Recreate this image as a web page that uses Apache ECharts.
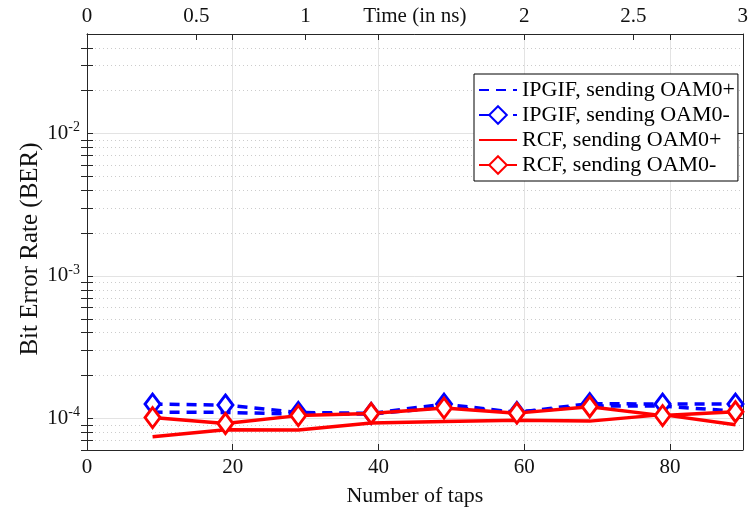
<!DOCTYPE html>
<html><head><meta charset="utf-8">
<script src="https://cdn.jsdelivr.net/npm/echarts@6/dist/echarts.min.js"></script>
<style>html,body{margin:0;padding:0;background:#fff}#c{width:751px;height:514px}</style>
</head><body><div id="c"></div>
<script>
const taps = [9, 19, 29, 39, 49, 59, 69, 79, 89];
const ipgifPlus  = [1.107e-4, 1.102e-4, 1.072e-4, 1.072e-4, 1.20e-4, 1.107e-4, 1.22e-4, 1.22e-4, 1.125e-4];
const ipgifMinus = [1.26e-4, 1.24e-4, 1.102e-4, 1.084e-4, 1.26e-4, 1.102e-4, 1.27e-4, 1.26e-4, 1.26e-4];
const rcfPlus    = [0.743e-4, 0.832e-4, 0.828e-4, 0.927e-4, 0.953e-4, 0.97e-4, 0.957e-4, 1.063e-4, 0.902e-4];
const rcfMinus   = [1.013e-4, 0.922e-4, 1.046e-4, 1.084e-4, 1.181e-4, 1.089e-4, 1.206e-4, 1.046e-4, 1.113e-4];
const seriesNames = ['IPGIF, sending OAM0+', 'IPGIF, sending OAM0-', 'RCF, sending OAM0+', 'RCF, sending OAM0-'];
const tapTicks = [0, 20, 40, 60, 80];
const timeTickLabels = [0, 0.5, 1, 1.5, 2, 2.5, 3];
const timeTitleAt = 1.5;
const yMajor = [1e-4, 1e-3, 1e-2];
const yMinor = [6e-5, 7e-5, 8e-5, 9e-5, 2e-4, 3e-4, 4e-4, 5e-4, 6e-4, 7e-4, 8e-4, 9e-4,
                2e-3, 3e-3, 4e-3, 5e-3, 6e-3, 7e-3, 8e-3, 9e-3, 2e-2, 3e-2, 4e-2];

const FONT = "'Liberation Serif', 'Times New Roman', serif";
const AX = '#262626';
const TXT = '#111';
const pair = (ys) => taps.map((x, i) => [x, ys[i]]);
const timeMirror = tapTicks.slice(1).map(t => t / 30);
const tick = (vals) => ({ show: true, inside: true, length: 6, lineStyle: { color: AX, width: 1 }, customValues: vals });

const chart = echarts.init(document.getElementById('c'));
chart.setOption({
  animation: false,
  backgroundColor: '#fff',
  grid: { left: 87, right: 6, top: 34, bottom: 64, containLabel: false },
  xAxis: [
    { type: 'value', position: 'bottom', min: 0, max: 90, interval: 10,
      name: 'Number of taps', nameLocation: 'middle', nameGap: 35,
      nameTextStyle: { fontFamily: FONT, fontSize: 22, color: TXT },
      axisLine: { show: true, lineStyle: { color: AX, width: 1 } },
      axisTick: tick(tapTicks),
      axisLabel: { margin: 7, fontFamily: FONT, fontSize: 21, color: TXT, customValues: tapTicks },
      splitLine: { show: true, lineStyle: { color: '#e3e3e3', width: 1 } } },
    { type: 'value', position: 'top', min: 0, max: 3, interval: 0.5,
      axisLine: { show: true, lineStyle: { color: AX, width: 1 } },
      axisTick: tick([0.5, 1, 2, 2.5].concat(timeMirror)),
      axisLabel: { margin: 7, fontFamily: FONT, fontSize: 21, color: TXT,
                   customValues: timeTickLabels,
                   formatter: v => (Math.abs(v - timeTitleAt) < 1e-9 ? 'Time (in ns)' : String(v)) },
      splitLine: { show: false } }
  ],
  yAxis: [
    { type: 'log', logBase: 10, position: 'left', min: 6e-5, max: 5e-2,
      name: 'Bit Error Rate (BER)', nameLocation: 'middle', nameGap: 44, nameRotate: 90,
      nameMoveOverlap: false,
      nameTextStyle: { fontFamily: FONT, fontSize: 25, color: TXT, padding: [0, 0, 0, -14] },
      axisLine: { show: true, lineStyle: { color: AX, width: 1 } },
      axisTick: tick(yMinor.concat(yMajor)),
      axisLabel: { margin: 7, fontFamily: FONT, color: TXT, customValues: yMajor,
        formatter: v => '{b|10}{s|' + Math.round(Math.log10(v)) + '}',
        rich: { b: { fontFamily: FONT, fontSize: 21, color: TXT },
                s: { fontFamily: FONT, fontSize: 14, color: TXT, verticalAlign: 'top', padding: [0, 0, 12, 0] } } },
      splitLine: { show: false } },
    { type: 'log', logBase: 10, position: 'right', min: 6e-5, max: 5e-2,
      axisLine: { show: true, lineStyle: { color: AX, width: 1 } },
      axisTick: tick(yMinor),
      axisLabel: { show: false },
      splitLine: { show: true, lineStyle: { color: '#cccccc', width: 1, type: [1, 3] } } },
    { type: 'log', logBase: 10, position: 'right', min: 6e-5, max: 5e-2,
      axisLine: { show: true, lineStyle: { color: AX, width: 1 } },
      axisTick: tick(yMajor),
      axisLabel: { show: false },
      splitLine: { show: true, lineStyle: { color: '#e3e3e3', width: 1 } } }
  ],
  legend: {
    orient: 'vertical', left: 474, top: 74,
    backgroundColor: '#fff', borderColor: '#000', borderWidth: 1,
    padding: [5, 3, 5, 4], itemGap: 3, itemWidth: 38, itemHeight: 22,
    textStyle: { fontFamily: FONT, fontSize: 22, color: '#000' },
    data: [
      { name: seriesNames[0], itemStyle: { opacity: 0 } },
      { name: seriesNames[1] },
      { name: seriesNames[2], itemStyle: { opacity: 0 } },
      { name: seriesNames[3] }
    ]
  },
  series: [
    { name: seriesNames[0], type: 'line', data: pair(ipgifPlus), symbol: 'none', z: 3,
      lineStyle: { color: '#0000ff', width: 3.5, type: [10, 7] }, itemStyle: { color: '#0000ff' } },
    { name: seriesNames[1], type: 'line', data: pair(ipgifMinus), symbol: 'diamond', symbolSize: [15, 20], z: 4,
      lineStyle: { color: '#0000ff', width: 3.5, type: [10, 7] },
      itemStyle: { color: '#fff', borderColor: '#0000ff', borderWidth: 3 } },
    { name: seriesNames[2], type: 'line', data: pair(rcfPlus), symbol: 'none', z: 5,
      lineStyle: { color: '#ff0000', width: 3.5, type: 'solid' }, itemStyle: { color: '#ff0000' } },
    { name: seriesNames[3], type: 'line', data: pair(rcfMinus), symbol: 'diamond', symbolSize: [15, 20], z: 6,
      lineStyle: { color: '#ff0000', width: 3.5, type: 'solid' },
      itemStyle: { color: '#fff', borderColor: '#ff0000', borderWidth: 3 } }
  ]
});
</script></body></html>
